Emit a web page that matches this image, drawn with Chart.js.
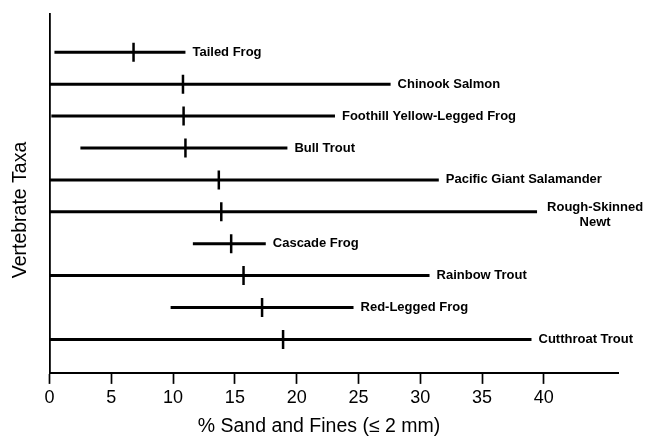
<!DOCTYPE html>
<html>
<head>
<meta charset="utf-8">
<script src="https://cdn.jsdelivr.net/npm/chart.js@4"></script>
<style>
    html, body { margin: 0; padding: 0; background: #fff; }
    #wrap { width: 645px; height: 436px; }
</style>
</head>
<body>
<div id="wrap"><canvas id="container"></canvas></div>
<script>
"use strict";

// taxa, top row first
const taxa = ["Tailed Frog", "Chinook Salmon", "Foothill Yellow-Legged Frog", "Bull Trout",
    "Pacific Giant Salamander", ["Rough-Skinned", "Newt"], "Cascade Frog", "Rainbow Trout",
    "Red-Legged Frog", "Cutthroat Trout"];
const lowVals = [0.4, 0, 0.15, 2.5, 0, 0, 11.6, 0, 9.8, 0];
const medianVals = [6.8, 10.8, 10.85, 11.0, 13.7, 13.9, 14.7, 15.7, 17.2, 18.9];
const highVals = [11.0, 27.6, 23.1, 19.25, 31.5, 39.45, 17.5, 30.75, 24.6, 39.0];
const xTickVals = [0, 5, 10, 15, 20, 25, 30, 35, 40];
const xTitle = "% Sand and Fines (\u2264 2 mm)";
const yTitle = "Vertebrate Taxa";

const FONT = "'Liberation Sans', Arial, sans-serif";

function rowOf(i) {
    return taxa.length - i;
}

var datasets = [];
taxa.forEach((name, i) => {
    datasets.push({
        label: Array.isArray(name) ? name.join(" ") : name,
        data: [{x: lowVals[i], y: rowOf(i)}, {x: highVals[i], y: rowOf(i)}],
        showLine: true,
        borderColor: "#000",
        borderWidth: 3,
        pointRadius: 0,
        borderCapStyle: "butt"
    });
});
datasets.push({
    label: "Median",
    data: medianVals.map((v, i) => ({x: v, y: rowOf(i)})),
    pointStyle: "line",
    rotation: 90,
    pointRadius: 9.5,
    pointBorderWidth: 2.5,
    borderColor: "#000",
    backgroundColor: "#000",
    showLine: false
});

// taxon labels at the right end of each bar + axis titles
const labelPlugin = {
    id: "taxaLabels",
    afterDatasetsDraw(chart) {
        const ctx = chart.ctx;
        const xs = chart.scales.x, ys = chart.scales.y;
        ctx.save();
        ctx.fillStyle = "#000";
        ctx.font = "bold 13px " + FONT;
        ctx.textBaseline = "middle";
        taxa.forEach((name, i) => {
            var x = xs.getPixelForValue(highVals[i]) + 7;
            var y = ys.getPixelForValue(rowOf(i));
            if (Array.isArray(name)) {
                var w = Math.max(...name.map(s => ctx.measureText(s).width));
                ctx.textAlign = "center";
                name.forEach((s, k) => ctx.fillText(s, x + 3 + w / 2, y - 4 + k * 15));
            } else {
                ctx.textAlign = "left";
                ctx.fillText(name, x, y);
            }
        });

        ctx.font = "19.5px " + FONT;
        ctx.textAlign = "center";
        ctx.textBaseline = "middle";
        ctx.fillText(xTitle, 319, 427);

        ctx.translate(21, 210);
        ctx.rotate(-Math.PI / 2);
        ctx.fillText(yTitle, 0, 0);
        ctx.restore();
    }
};

var ctx = document.getElementById("container").getContext("2d");
var dataChart = new Chart(ctx, {
    type: "scatter",
    data: { datasets: datasets },
    options: {
        responsive: true,
        maintainAspectRatio: false,
        animation: false,
        layout: {
            padding: { left: 41.5, top: 14, right: 27, bottom: 24.5 }
        },
        plugins: {
            legend: { display: false },
            tooltip: { enabled: false }
        },
        scales: {
            x: {
                type: "linear",
                min: 0,
                max: 46,
                afterBuildTicks: (scale) => {
                    scale.ticks = xTickVals.map(v => ({value: v}));
                },
                ticks: {
                    color: "#000",
                    font: { family: FONT, size: 18 },
                    padding: 3,
                    maxRotation: 0
                },
                grid: {
                    display: true,
                    drawOnChartArea: false,
                    drawTicks: true,
                    tickLength: 11,
                    tickWidth: 1.7,
                    tickColor: "#000"
                },
                border: { display: true, color: "#000", width: 2 }
            },
            y: {
                type: "linear",
                min: -0.05,
                max: 11.2,
                ticks: { display: false },
                grid: { display: false },
                border: { display: true, color: "#000", width: 1.8 }
            }
        }
    },
    plugins: [labelPlugin]
});
</script>
</body>
</html>
